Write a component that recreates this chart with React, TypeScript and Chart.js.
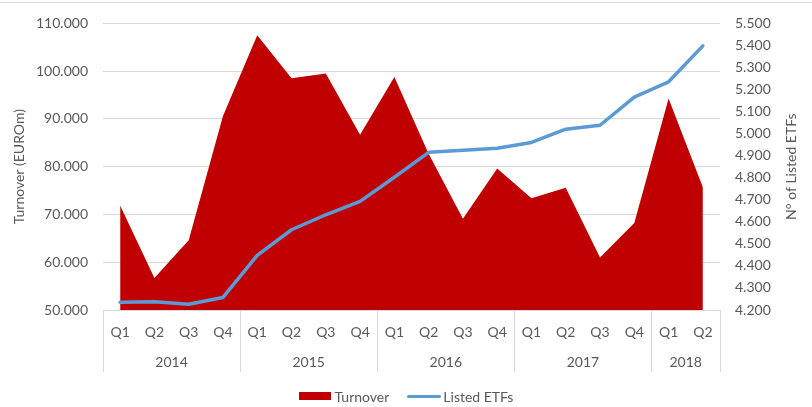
import React, { useEffect, useRef } from 'react';
import { Chart, registerables } from 'chart.js';

Chart.register(...registerables);

const quarters = ['Q1', 'Q2', 'Q3', 'Q4', 'Q1', 'Q2', 'Q3', 'Q4', 'Q1', 'Q2', 'Q3', 'Q4', 'Q1', 'Q2', 'Q3', 'Q4', 'Q1', 'Q2'];
const years = ['2014', '2015', '2016', '2017', '2018'];
const quartersPerYear = [4, 4, 4, 4, 2];
const turnover = [71900, 56700, 64600, 90600, 107500, 98500, 99500, 86700, 98800, 82700, 69100, 79600, 73400, 75600, 61000, 68200, 94300, 75700];
const listedETFs = [4235, 4237, 4226, 4257, 4448, 4564, 4632, 4693, 4802, 4915, 4925, 4934, 4960, 5020, 5038, 5166, 5235, 5398];
const leftTicks = { min: 50000, max: 110000, step: 10000 };
const rightTicks = { min: 4200, max: 5500, step: 100 };

const FONT = 'Lato, "Open Sans", sans-serif';
const TEXT = '#595959';
const GRID = '#d9d9d9';
const RED = '#C00000';
const BLUE = '#5B9BD5';

function fmt(v: number): string {
  return String(Math.round(v)).replace(/\B(?=(\d{3})+(?!\d))/g, '.');
}

export default function App() {
  const ref = useRef<HTMLCanvasElement>(null);

  useEffect(() => {
    if (!ref.current) return;

    const groupPlugin = {
      id: 'yearGroups',
      afterDraw(chart: any) {
        const { ctx, chartArea } = chart;
        const xs = chart.scales.x;
        const n = quarters.length;
        const half = (xs.getPixelForValue(1) - xs.getPixelForValue(0)) / 2;
        const edge = (i: number) => (i < n ? xs.getPixelForValue(i) - half : xs.getPixelForValue(n - 1) + half);
        ctx.save();
        ctx.strokeStyle = GRID;
        ctx.lineWidth = 1;
        ctx.fillStyle = TEXT;
        ctx.font = `14px ${FONT}`;
        ctx.textAlign = 'center';
        ctx.textBaseline = 'middle';
        let start = 0;
        const bounds: number[] = [0];
        quartersPerYear.forEach((q) => {
          start += q;
          bounds.push(start);
        });
        bounds.forEach((b) => {
          const x = Math.round(edge(b)) + 0.5;
          ctx.beginPath();
          ctx.moveTo(x, chartArea.bottom);
          ctx.lineTo(x, 372);
          ctx.stroke();
        });
        years.forEach((y, i) => {
          const x0 = edge(bounds[i]);
          const x1 = edge(bounds[i + 1]);
          ctx.fillText(y, (x0 + x1) / 2, 362);
        });
        ctx.translate(791, (chartArea.top + chartArea.bottom) / 2);
        ctx.rotate(-Math.PI / 2);
        ctx.fillText('N° of Listed ETFs', 0, 0);
        ctx.restore();
      },
    };

    const chart = new Chart(ref.current, {
      type: 'line',
      data: {
        labels: quarters,
        datasets: [
          {
            label: 'Listed ETFs',
            data: listedETFs,
            yAxisID: 'y1',
            borderColor: BLUE,
            backgroundColor: BLUE,
            borderWidth: 3.5,
            borderJoinStyle: 'round',
            borderCapStyle: 'round',
            pointRadius: 0,
            tension: 0,
            fill: false,
            order: 0,
          },
          {
            label: 'Turnover',
            data: turnover,
            yAxisID: 'y',
            borderColor: RED,
            backgroundColor: RED,
            borderWidth: 0,
            pointRadius: 0,
            tension: 0,
            fill: 'start',
            order: 1,
          },
        ],
      },
      options: {
        responsive: false,
        animation: false,
        layout: { padding: { top: 22, bottom: 0, left: 0, right: 0 } },
        plugins: {
          legend: { display: false },
          tooltip: { enabled: false },
        },
        scales: {
          x: {
            type: 'category',
            offset: true,
            grid: { display: false, drawTicks: false },
            border: { display: true, color: GRID, width: 1 },
            ticks: {
              color: TEXT,
              font: { family: FONT, size: 14 },
              padding: 14,
              maxRotation: 0,
              autoSkip: false,
            },
            afterFit(scale: any) {
              scale.height = 97;
            },
          },
          y: {
            type: 'linear',
            position: 'left',
            min: leftTicks.min,
            max: leftTicks.max,
            grid: { color: GRID, lineWidth: 1, drawTicks: false },
            border: { display: false },
            ticks: {
              stepSize: leftTicks.step,
              maxTicksLimit: 20,
              autoSkip: false,
              color: TEXT,
              font: { family: FONT, size: 14 },
              padding: 15,
              callback: (v: any) => fmt(Number(v)),
            },
            title: {
              display: true,
              text: 'Turnover (EUROm)',
              color: TEXT,
              font: { family: FONT, size: 14 },
              padding: { top: 11, bottom: 0 },
            },
            afterFit(scale: any) {
              scale.width = 103;
            },
          },
          y1: {
            type: 'linear',
            position: 'right',
            min: rightTicks.min,
            max: rightTicks.max,
            grid: { display: false, drawTicks: false },
            border: { display: false },
            ticks: {
              stepSize: rightTicks.step,
              maxTicksLimit: 20,
              autoSkip: false,
              color: TEXT,
              font: { family: FONT, size: 14 },
              padding: 15,
              callback: (v: any) => fmt(Number(v)),
            },
            afterFit(scale: any) {
              scale.width = 92;
            },
          },
        },
      },
      plugins: [groupPlugin],
    } as any);

    return () => chart.destroy();
  }, []);

  return (
    <div style={{ position: 'absolute', left: 0, top: 0, width: 812, height: 407, background: '#fff', overflow: 'hidden' }}>
      <div style={{ position: 'absolute', left: 0, top: 2, width: 812, height: 0, borderTop: `1px solid ${GRID}` }} />
      <canvas ref={ref} width={812} height={407} style={{ position: 'absolute', left: 0, top: 0 }} />
      <div
        style={{
          position: 'absolute',
          left: 0,
          top: 386,
          width: 812,
          height: 20,
          display: 'flex',
          justifyContent: 'center',
          alignItems: 'center',
          fontFamily: FONT,
          fontSize: 14,
          color: TEXT,
          whiteSpace: 'nowrap',
        }}
      >
        <span style={{ display: 'inline-block', width: 32, height: 8, background: RED, marginRight: 4 }} />
        <span>Turnover</span>
        <span style={{ display: 'inline-block', width: 34, height: 3, borderRadius: 2, background: BLUE, marginLeft: 18, marginRight: 2 }} />
        <span>Listed ETFs</span>
      </div>
    </div>
  );
}
